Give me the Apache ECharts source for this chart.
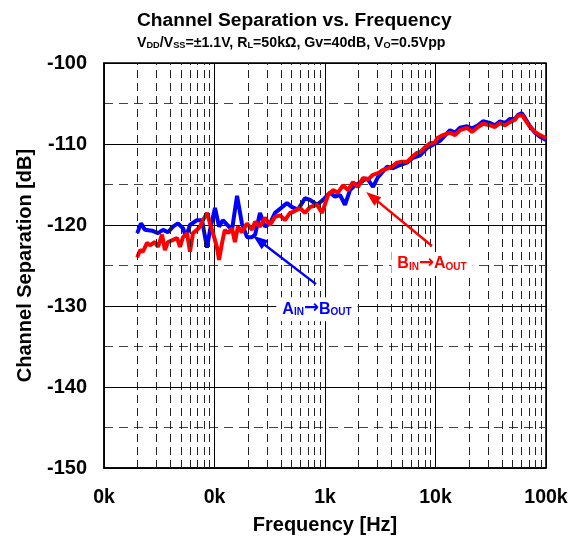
<!DOCTYPE html>
<html><head><meta charset="utf-8">
<script src="https://cdn.jsdelivr.net/npm/echarts@6/dist/echarts.min.js"></script>
<style>html,body{margin:0;padding:0;background:#fff}#c{width:577px;height:542px}</style>
</head><body><div id="c"></div>
<script>
// Blue: A_IN -> B_OUT
const freqA = [20, 21.6, 23.5, 27.2, 30.8, 34.2, 37.9, 42.1, 46.7, 51.9,
  55.2, 60, 69.4, 77.1, 85.5, 91.1, 101, 110, 119, 144,
  160, 177, 197, 218, 233, 258, 286, 318, 353, 408,
  453, 503, 570, 659, 732, 847, 960, 1110, 1232, 1367,
  1517, 1684, 1868, 2073, 2399, 2719, 3017, 3639, 4125, 4771,
  5521, 6258, 7238, 8377, 9492, 10985, 13527, 15017, 16665, 19282,
  21393, 24247, 26910, 31137, 34549, 38340, 42560, 47220, 52400, 55800,
  60650, 64570, 71640, 79520, 88260, 100000];
const sepA = [-121.0, -119.8, -120.6, -120.7, -121.0, -120.6, -120.9, -120.2, -119.8, -120.4,
  -121.5, -120.0, -119.4, -119.4, -122.8, -120.6, -117.9, -120.2, -119.4, -120.6,
  -116.4, -119.8, -121.5, -121.5, -121.2, -118.5, -120.2, -119.8, -118.5, -117.8,
  -117.3, -117.8, -118.1, -116.7, -116.9, -117.5, -116.9, -116.0, -116.5, -116.3,
  -117.5, -115.7, -115.1, -114.8, -114.2, -115.3, -114.1, -112.8, -113.0, -112.6,
  -112.3, -111.7, -111.4, -110.5, -110.1, -109.6, -108.3, -108.6, -108.0, -107.8,
  -108.1, -107.7, -107.2, -107.4, -107.7, -107.2, -107.4, -106.9, -106.9, -106.4,
  -106.2, -106.8, -107.8, -108.6, -109.1, -109.5];
// Red: B_IN -> A_OUT
const freqB = [20, 21.2, 22.5, 24.5, 26.1, 28.9, 30.8, 33.5, 35.6, 37.9,
  41.3, 45.8, 48.7, 51.9, 56.4, 60.0, 63.9, 69.4, 73.9, 78.7,
  85.5, 91.1, 96.9, 105, 110, 117, 124, 133, 144, 153,
  163, 177, 197, 218, 233, 258, 286, 318, 353, 392,
  435, 482, 513, 594, 659, 732, 847, 940, 1065, 1181,
  1311, 1455, 1615, 1792, 1989, 2207, 2449, 2719, 3017, 3349,
  3716, 4040, 4483, 4975, 5521, 6128, 6800, 7238, 8035, 8918,
  9897, 10320, 11690, 13527, 15017, 16665, 19282, 21393, 24247, 26910,
  31137, 34549, 38340, 42560, 47220, 52400, 55800, 60650, 64570, 71640,
  79520, 88260, 100000];
const sepB = [-124.0, -123.1, -123.3, -122.2, -122.5, -122.1, -122.7, -121.2, -123.1, -122.1,
  -121.9, -121.6, -122.7, -121.5, -121.0, -123.3, -121.0, -120.6, -120.2, -119.4,
  -118.5, -119.8, -121.0, -122.7, -124.3, -122.2, -120.6, -121.0, -120.4, -122.1,
  -120.2, -120.9, -119.8, -120.6, -119.6, -120.2, -119.1, -120.0, -119.0, -118.8,
  -119.4, -118.5, -118.4, -117.9, -118.5, -117.8, -117.5, -118.5, -116.3, -115.7,
  -116.0, -115.1, -115.7, -114.7, -115.3, -114.2, -114.4, -113.8, -113.6, -113.2,
  -113.0, -112.8, -112.3, -112.2, -112.2, -111.6, -111.1, -111.0, -110.4, -109.9,
  -109.8, -109.3, -108.9, -108.6, -108.9, -108.3, -108.0, -108.5, -107.9, -107.5,
  -107.7, -107.9, -107.4, -107.7, -107.3, -107.0, -106.5, -106.4, -107.0, -107.9,
  -108.5, -108.9, -109.3];

const xTickValues = [10, 100, 1000, 10000, 100000];
const xTickLabels = ['0k', '0k', '1k', '10k', '100k'];
const decades = [10, 100, 1000, 10000];
const minorMultipliers = [2, 3, 4, 5, 6, 7, 8, 9];

// annotation anchors (data coords)
const arrowA = {from: [829, -127.3], to: [253, -121.9]};
const labelA = [846, -130.4];
const arrowB = {from: [9296, -122.6], to: [2663, -116.5]};
const labelB = [9300, -124.8];

const FONT = 'Liberation Sans, Arial, Helvetica, sans-serif';
const BLUE = '#0000ff', RED = '#ff0000';

const minorX = [];
decades.forEach(d => minorMultipliers.forEach(m => minorX.push(d * m)));

function pairs(f, v) { return f.map((x, i) => [x, v[i]]); }

function richLabel(color) {
  return {
    m: {fontFamily: FONT, fontWeight: 'bold', fontSize: 16, color: color, lineHeight: 16, verticalAlign: 'bottom'},
    a: {fontFamily: 'DejaVu Sans', fontWeight: 'bold', fontSize: 18, color: color, lineHeight: 16, verticalAlign: 'bottom'},
    s: {fontFamily: FONT, fontWeight: 'bold', fontSize: 10, color: color, lineHeight: 5, verticalAlign: 'bottom'}
  };
}

const chart = echarts.init(document.getElementById('c'), null, {renderer: 'canvas'});
chart.setOption({
  animation: false,
  backgroundColor: '#fff',
  title: [{
    text: 'Channel Separation vs. Frequency',
    left: 132, top: 6,
    textStyle: {fontFamily: FONT, fontWeight: 'bold', fontSize: 19.2, color: '#000'}
  }, {
    text: '{m|V}{s|DD}{m|/V}{s|SS}{m|=\u00b11.1V, R}{s|L}{m|=50k\u03a9, Gv=40dB, V}{s|O}{m|=0.5Vpp}',
    left: 132, top: 31,
    textStyle: {
      rich: {
        m: {fontFamily: FONT, fontWeight: 'bold', fontSize: 14.2, color: '#000', lineHeight: 14, verticalAlign: 'bottom'},
        s: {fontFamily: FONT, fontWeight: 'bold', fontSize: 9.2, color: '#000', lineHeight: 4, verticalAlign: 'bottom'}
      }
    }
  }],
  grid: {left: 104, right: 31, top: 63, bottom: 74, show: true, borderColor: '#000', borderWidth: 1.5, backgroundColor: 'transparent'},
  xAxis: {
    type: 'log', logBase: 10, min: 10, max: 100000,
    name: 'Frequency [Hz]', nameLocation: 'middle', nameGap: 47,
    nameTextStyle: {fontFamily: FONT, fontWeight: 'bold', fontSize: 20, color: '#000'},
    axisLine: {show: true, lineStyle: {color: '#000', width: 1.5}},
    axisTick: {show: false},
    axisLabel: {
      fontFamily: FONT, fontWeight: 'bold', fontSize: 19.5, color: '#000', margin: 20,
      formatter: v => xTickLabels[Math.round(Math.log10(v)) - 1]
    },
    splitLine: {show: true, lineStyle: {color: '#000', width: 1}}
  },
  yAxis: {
    type: 'value', min: -150, max: -100, interval: 10,
    name: 'Channel Separation [dB]', nameLocation: 'middle', nameGap: 69,
    nameTextStyle: {fontFamily: FONT, fontWeight: 'bold', fontSize: 20, color: '#000'},
    axisLine: {show: true, lineStyle: {color: '#000', width: 1.5}},
    axisTick: {show: false},
    axisLabel: {fontFamily: FONT, fontWeight: 'bold', fontSize: 20, color: '#000', margin: 17},
    splitLine: {show: true, lineStyle: {color: '#000', width: 1}},
    minorTick: {show: false, splitNumber: 2},
    minorSplitLine: {show: true, lineStyle: {color: '#444', width: 1, type: [9, 6]}}
  },
  series: [{
    name: 'minor', type: 'line', data: [], z: 1, silent: true,
    markLine: {
      silent: true, symbol: 'none', animation: false,
      label: {show: false},
      lineStyle: {color: '#222', width: 1, type: [8, 5]},
      data: minorX.map(v => ({xAxis: v}))
    }
  }, {
    name: 'A_IN->B_OUT', type: 'line', z: 3,
    data: pairs(freqA, sepA), showSymbol: false, symbol: 'none',
    lineStyle: {color: BLUE, width: 4}, itemStyle: {color: BLUE},
    markLine: {
      silent: true, animation: false, symbol: ['none', 'triangle'], symbolSize: [11, 15],
      label: {show: false},
      lineStyle: {color: BLUE, width: 2.5, type: 'solid'},
      data: [[{coord: arrowA.from}, {coord: arrowA.to}]]
    },
    markPoint: {
      silent: true, animation: false, symbol: 'rect', symbolSize: 0,
      label: {show: true, position: 'inside', backgroundColor: '#fff', padding: [4, 6],
        formatter: '{m|A}{s|IN}{a|\u2192}{m|B}{s|OUT}', rich: richLabel(BLUE)},
      data: [{coord: labelA}]
    }
  }, {
    name: 'B_IN->A_OUT', type: 'line', z: 4,
    data: pairs(freqB, sepB), showSymbol: false, symbol: 'none',
    lineStyle: {color: RED, width: 4}, itemStyle: {color: RED},
    markLine: {
      silent: true, animation: false, symbol: ['none', 'triangle'], symbolSize: [11, 15],
      label: {show: false},
      lineStyle: {color: RED, width: 2.5, type: 'solid'},
      data: [[{coord: arrowB.from}, {coord: arrowB.to}]]
    },
    markPoint: {
      silent: true, animation: false, symbol: 'rect', symbolSize: 0,
      label: {show: true, position: 'inside', backgroundColor: '#fff', padding: [4, 6],
        formatter: '{m|B}{s|IN}{a|\u2192}{m|A}{s|OUT}', rich: richLabel(RED)},
      data: [{coord: labelB}]
    }
  }]
});
</script></body></html>
